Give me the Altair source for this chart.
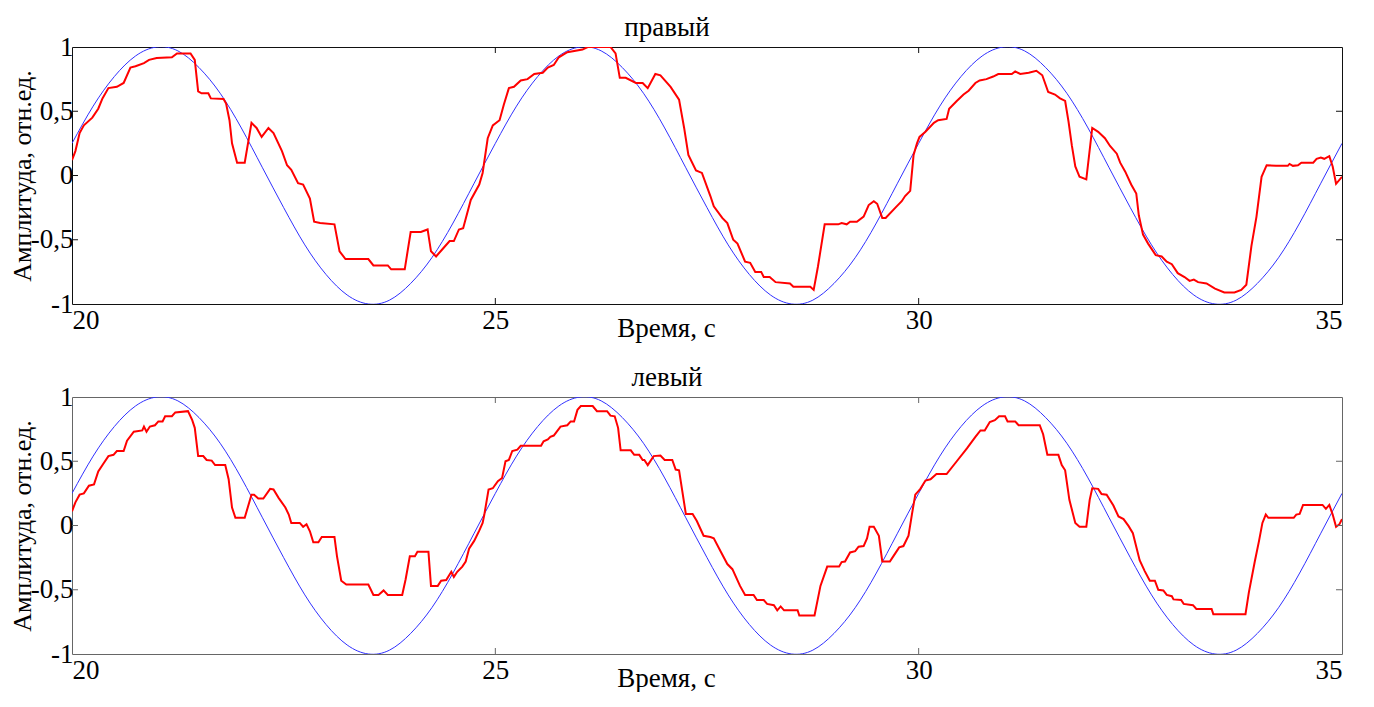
import altair as alt
import pandas as pd

# ---------------- data ----------------
T_BLUE = [20.0, 20.25, 20.5, 20.75, 21.0, 21.25, 21.5, 21.75, 22.0, 22.25,
          22.5, 22.75, 23.0, 23.25, 23.5, 23.75, 24.0, 24.25, 24.5, 24.75,
          25.0, 25.25, 25.5, 25.75, 26.0, 26.25, 26.5, 26.75, 27.0, 27.25,
          27.5, 27.75, 28.0, 28.25, 28.5, 28.75, 29.0, 29.25, 29.5, 29.75,
          30.0, 30.25, 30.5, 30.75, 31.0, 31.25, 31.5, 31.75, 32.0, 32.25,
          32.5, 32.75, 33.0, 33.25, 33.5, 33.75, 34.0, 34.25, 34.5, 34.75, 35.0]
V_BLUE = [0.25, 0.54, 0.77, 0.93, 1.00, 0.97, 0.84, 0.64, 0.37, 0.06,
          -0.25, -0.54, -0.77, -0.93, -1.00, -0.97, -0.84, -0.64, -0.37, -0.06,
          0.25, 0.54, 0.77, 0.93, 1.00, 0.97, 0.84, 0.64, 0.37, 0.06,
          -0.25, -0.54, -0.77, -0.93, -1.00, -0.97, -0.84, -0.64, -0.37, -0.06,
          0.25, 0.54, 0.77, 0.93, 1.00, 0.97, 0.84, 0.64, 0.37, 0.06,
          -0.25, -0.54, -0.77, -0.93, -1.00, -0.97, -0.84, -0.64, -0.37, -0.06,
          0.25]

T_RIGHT = [20.00, 20.04, 20.09, 20.14, 20.24, 20.31, 20.36, 20.43, 20.53, 20.61,
           20.69, 20.75, 20.85, 20.91, 21.00, 21.18, 21.24, 21.40, 21.45, 21.49,
           21.53, 21.61, 21.64, 21.79, 21.82, 21.86, 21.89, 21.95, 22.04, 22.12,
           22.18, 22.24, 22.32, 22.38, 22.48, 22.54, 22.59, 22.67, 22.73, 22.81,
           22.86, 22.93, 23.10, 23.16, 23.23, 23.50, 23.56, 23.73, 23.77, 23.93,
           24.00, 24.12, 24.20, 24.24, 24.30, 24.38, 24.46, 24.51, 24.57, 24.62,
           24.71, 24.81, 24.85, 24.91, 24.97, 25.05, 25.10, 25.16, 25.22, 25.30,
           25.38, 25.46, 25.56, 25.62, 25.69, 25.75, 25.85, 26.03, 26.09, 26.36,
           26.42, 26.47, 26.54, 26.66, 26.74, 26.80, 26.89, 26.95, 27.07, 27.17,
           27.23, 27.28, 27.37, 27.44, 27.54, 27.58, 27.68, 27.74, 27.81, 27.86,
           27.95, 28.01, 28.07, 28.14, 28.17, 28.24, 28.31, 28.48, 28.52, 28.72,
           28.76, 28.81, 28.89, 29.05, 29.09, 29.15, 29.19, 29.27, 29.35, 29.41,
           29.47, 29.51, 29.57, 29.61, 29.74, 29.80, 29.84, 29.90, 29.94, 29.98,
           30.01, 30.08, 30.18, 30.23, 30.33, 30.36, 30.45, 30.53, 30.59, 30.67,
           30.72, 30.80, 30.88, 30.94, 31.10, 31.14, 31.20, 31.30, 31.39, 31.46,
           31.53, 31.61, 31.67, 31.73, 31.77, 31.81, 31.85, 31.90, 31.98, 32.05,
           32.12, 32.20, 32.26, 32.34, 32.38, 32.44, 32.51, 32.57, 32.60, 32.65,
           32.71, 32.80, 32.87, 32.93, 32.99, 33.06, 33.14, 33.20, 33.25, 33.30,
           33.40, 33.50, 33.61, 33.73, 33.81, 33.87, 33.93, 33.99, 34.05, 34.11,
           34.22, 34.36, 34.38, 34.42, 34.48, 34.52, 34.66, 34.70, 34.75, 34.79,
           34.85, 34.89, 34.93, 35.00]
V_RIGHT = [0.12, 0.19, 0.33, 0.39, 0.45, 0.52, 0.60, 0.68, 0.69, 0.72,
           0.84, 0.85, 0.875, 0.90, 0.915, 0.92, 0.95, 0.95, 0.90, 0.655,
           0.64, 0.64, 0.60, 0.595, 0.56, 0.43, 0.25, 0.10, 0.10, 0.41,
           0.37, 0.30, 0.37, 0.33, 0.19, 0.08, 0.045, -0.06, -0.07, -0.18,
           -0.36, -0.37, -0.38, -0.59, -0.65, -0.65, -0.70, -0.70, -0.73, -0.73,
           -0.44, -0.44, -0.42, -0.59, -0.63, -0.57, -0.51, -0.51, -0.42, -0.41,
           -0.19, -0.07, 0.02, 0.29, 0.39, 0.43, 0.55, 0.68, 0.69, 0.74,
           0.75, 0.79, 0.80, 0.84, 0.86, 0.92, 0.96, 0.98, 1.00, 1.00,
           0.95, 0.76, 0.76, 0.72, 0.72, 0.68, 0.79, 0.78, 0.69, 0.59,
           0.37, 0.16, 0.04, 0.02, -0.16, -0.24, -0.33, -0.37, -0.50, -0.53,
           -0.67, -0.68, -0.75, -0.75, -0.79, -0.79, -0.83, -0.84, -0.865, -0.865,
           -0.89, -0.71, -0.38, -0.38, -0.37, -0.38, -0.36, -0.36, -0.32, -0.23,
           -0.20, -0.22, -0.33, -0.33, -0.24, -0.20, -0.16, -0.12, 0.16, 0.25,
           0.30, 0.34, 0.41, 0.43, 0.44, 0.52, 0.58, 0.63, 0.66, 0.72,
           0.74, 0.75, 0.77, 0.79, 0.79, 0.81, 0.79, 0.80, 0.815, 0.78,
           0.65, 0.63, 0.60, 0.58, 0.42, 0.23, 0.07, -0.01, -0.03, 0.37,
           0.34, 0.29, 0.23, 0.17, 0.10, 0.03, -0.07, -0.14, -0.31, -0.46,
           -0.53, -0.62, -0.63, -0.67, -0.69, -0.76, -0.79, -0.82, -0.81, -0.83,
           -0.84, -0.88, -0.91, -0.91, -0.89, -0.85, -0.55, -0.32, -0.01, 0.08,
           0.075, 0.075, 0.09, 0.075, 0.08, 0.10, 0.10, 0.13, 0.14, 0.13,
           0.15, 0.07, -0.065, -0.01]

T_LEFT = [20.00, 20.04, 20.09, 20.14, 20.20, 20.26, 20.31, 20.37, 20.43, 20.49,
          20.53, 20.61, 20.65, 20.73, 20.83, 20.85, 20.88, 20.92, 20.98, 21.02,
          21.07, 21.10, 21.18, 21.22, 21.37, 21.42, 21.45, 21.49, 21.55, 21.59,
          21.65, 21.69, 21.81, 21.85, 21.89, 21.93, 22.04, 22.12, 22.15, 22.20,
          22.26, 22.34, 22.38, 22.44, 22.52, 22.56, 22.59, 22.69, 22.73, 22.77,
          22.81, 22.85, 22.91, 22.95, 23.10, 23.13, 23.18, 23.24, 23.50, 23.56,
          23.62, 23.68, 23.73, 23.90, 23.94, 23.99, 24.05, 24.08, 24.21, 24.24,
          24.32, 24.36, 24.42, 24.48, 24.51, 24.55, 24.61, 24.65, 24.69, 24.75,
          24.81, 24.85, 24.87, 24.92, 24.97, 25.03, 25.08, 25.12, 25.16, 25.20,
          25.26, 25.30, 25.54, 25.57, 25.62, 25.65, 25.69, 25.77, 25.85, 25.89,
          25.93, 25.97, 26.01, 26.15, 26.20, 26.32, 26.36, 26.41, 26.45, 26.48,
          26.60, 26.64, 26.70, 26.74, 26.76, 26.80, 26.87, 26.95, 27.00, 27.09,
          27.13, 27.17, 27.25, 27.33, 27.38, 27.46, 27.54, 27.58, 27.66, 27.74,
          27.80, 27.89, 27.95, 28.05, 28.09, 28.17, 28.21, 28.29, 28.33, 28.37,
          28.41, 28.57, 28.59, 28.77, 28.84, 28.92, 29.06, 29.09, 29.13, 29.19,
          29.25, 29.29, 29.35, 29.39, 29.42, 29.47, 29.53, 29.57, 29.66, 29.70,
          29.77, 29.82, 29.88, 29.92, 29.96, 30.02, 30.08, 30.14, 30.21, 30.33,
          30.45, 30.57, 30.67, 30.73, 30.78, 30.84, 30.90, 30.95, 31.02, 31.05,
          31.14, 31.18, 31.43, 31.47, 31.52, 31.65, 31.69, 31.73, 31.78, 31.85,
          31.90, 31.98, 32.02, 32.05, 32.12, 32.16, 32.22, 32.30, 32.36, 32.42,
          32.48, 32.53, 32.61, 32.67, 32.73, 32.79, 32.83, 32.89, 32.93, 32.99,
          33.01, 33.10, 33.13, 33.24, 33.28, 33.46, 33.48, 33.86, 33.90, 33.97,
          34.02, 34.06, 34.10, 34.13, 34.43, 34.46, 34.50, 34.54, 34.77, 34.81,
          34.85, 34.89, 34.93, 34.97, 35.00]
V_LEFT = [0.11, 0.18, 0.24, 0.25, 0.31, 0.32, 0.42, 0.48, 0.54, 0.55,
          0.58, 0.58, 0.66, 0.73, 0.74, 0.77, 0.73, 0.77, 0.78, 0.81,
          0.81, 0.85, 0.85, 0.88, 0.89, 0.82, 0.76, 0.54, 0.54, 0.51,
          0.505, 0.47, 0.47, 0.36, 0.14, 0.06, 0.06, 0.24, 0.24, 0.21,
          0.21, 0.285, 0.28, 0.215, 0.14, 0.085, 0.02, 0.02, -0.01, 0.01,
          -0.045, -0.13, -0.13, -0.09, -0.09, -0.24, -0.43, -0.46, -0.46, -0.54,
          -0.54, -0.505, -0.54, -0.54, -0.42, -0.24, -0.24, -0.205, -0.205, -0.47,
          -0.47, -0.43, -0.425, -0.36, -0.40, -0.36, -0.32, -0.28, -0.18, -0.12,
          -0.04, 0.02, 0.085, 0.28, 0.29, 0.345, 0.37, 0.50, 0.51, 0.58,
          0.59, 0.62, 0.62, 0.655, 0.67, 0.69, 0.70, 0.77, 0.78, 0.81,
          0.81, 0.90, 0.93, 0.93, 0.89, 0.89, 0.855, 0.85, 0.76, 0.585,
          0.585, 0.55, 0.55, 0.51, 0.51, 0.47, 0.54, 0.545, 0.51, 0.51,
          0.435, 0.43, 0.09, 0.09, 0.035, -0.08, -0.09, -0.10, -0.20, -0.30,
          -0.34, -0.47, -0.54, -0.54, -0.58, -0.58, -0.61, -0.62, -0.66, -0.63,
          -0.66, -0.66, -0.70, -0.70, -0.47, -0.32, -0.32, -0.285, -0.28, -0.21,
          -0.20, -0.165, -0.16, -0.10, -0.01, -0.01, -0.08, -0.28, -0.28, -0.24,
          -0.17, -0.16, -0.08, 0.085, 0.24, 0.285, 0.35, 0.36, 0.40, 0.40,
          0.50, 0.60, 0.69, 0.74, 0.74, 0.805, 0.82, 0.85, 0.85, 0.81,
          0.81, 0.78, 0.78, 0.71, 0.55, 0.55, 0.47, 0.43, 0.20, 0.02,
          -0.01, -0.01, 0.20, 0.29, 0.285, 0.245, 0.24, 0.155, 0.07, 0.05,
          -0.005, -0.06, -0.27, -0.355, -0.43, -0.43, -0.50, -0.505, -0.54, -0.55,
          -0.575, -0.58, -0.61, -0.62, -0.65, -0.65, -0.69, -0.69, -0.52, -0.28,
          -0.12, 0.02, 0.085, 0.06, 0.06, 0.085, 0.09, 0.16, 0.16, 0.13,
          0.16, 0.085, -0.01, 0.01, 0.05]

X_TICKS = [20, 25, 30, 35]
Y_TICKS = [-1, -0.5, 0, 0.5, 1]
X_INNER_TICKS = [25, 30]
Y_INNER_TICKS = [-0.5, 0, 0.5]

PANEL_TITLES = ["правый", "левый"]
X_TITLE = "Время, с"
Y_TITLE = "Амплитуда, отн.ед."

# ---------------- chart ----------------
W, H = 1270, 257
FONT = "Liberation Serif"
FS = 27

blue_df = pd.DataFrame({"t": T_BLUE, "v": V_BLUE})
xt_df = pd.DataFrame({"t": X_INNER_TICKS})
yt_df = pd.DataFrame({"v": Y_INNER_TICKS})

xscale = alt.Scale(domain=[20, 35], nice=False, zero=False)
yscale = alt.Scale(domain=[-1, 1], nice=False, zero=False)

XAXIS = alt.Axis(values=X_TICKS, ticks=False, domain=False, grid=False,
                 labelFlush=True, labelFont=FONT, labelFontSize=FS,
                 labelColor="#000", labelPadding=3, format="d",
                 title=X_TITLE, titleFont=FONT, titleFontSize=FS,
                 titleFontWeight="normal", titleColor="#000",
                 titleY=32, titleBaseline="alphabetic",
                 titleX=594, titleAlign="center")
YAXIS = alt.Axis(values=Y_TICKS, ticks=False, domain=False, grid=False,
                 labelFont=FONT, labelFontSize=FS, labelColor="#000",
                 labelPadding=-1, labelFlush=False,
                 labelExpr="replace(toString(datum.value), '.', ',')",
                 title=Y_TITLE, titleFont=FONT, titleFontSize=26,
                 titleFontWeight="normal", titleColor="#000",
                 titleAngle=270, titleX=-37, titleY=H / 2,
                 titleBaseline="bottom", titleAlign="center")


def X(field):
    return alt.X(field, type="quantitative", scale=xscale, axis=XAXIS)


def Y(field):
    return alt.Y(field, type="quantitative", scale=yscale, axis=YAXIS)


def panel(title, t_red, v_red, frame):
    red_df = pd.DataFrame({"t": t_red, "v": v_red})
    blue = alt.Chart(blue_df).mark_line(
        color="#3030ff", strokeWidth=1, interpolate="natural", clip=True
    ).encode(x=X("t"), y=Y("v"))
    red = alt.Chart(red_df).mark_line(
        color="#ff0000", strokeWidth=2, clip=True
    ).encode(x=X("t"), y=Y("v"))
    yl = alt.Chart(yt_df).mark_rule(color=frame).encode(
        y=Y("v"), x=alt.value(0), x2=alt.value(6))
    yr = alt.Chart(yt_df).mark_rule(color=frame).encode(
        y=Y("v"), x=alt.value(W - 6), x2=alt.value(W))
    xtp = alt.Chart(xt_df).mark_rule(color=frame).encode(
        x=X("t"), y=alt.value(0), y2=alt.value(6))
    xbt = alt.Chart(xt_df).mark_rule(color=frame).encode(
        x=X("t"), y=alt.value(H - 6), y2=alt.value(H))
    return alt.layer(blue, red, yl, yr, xtp, xbt).properties(
        width=W, height=H,
        title=alt.TitleParams(title, font=FONT, fontSize=FS, fontWeight="normal",
                              color="#000", anchor="middle", dx=-40, offset=-30,
                              baseline="alphabetic"),
        view=alt.ViewBackground(stroke=frame, strokeWidth=1),
    )


top = panel(PANEL_TITLES[0], T_RIGHT, V_RIGHT, "#111111")
bottom = panel(PANEL_TITLES[1], T_LEFT, V_LEFT, "#666666")

chart = alt.vconcat(top, bottom, spacing=21).properties(
    padding={"left": 0, "top": 5, "right": 5, "bottom": 0}
).configure(background="white")

chart.save("out.html", embed_options={"renderer": "svg", "actions": False})
